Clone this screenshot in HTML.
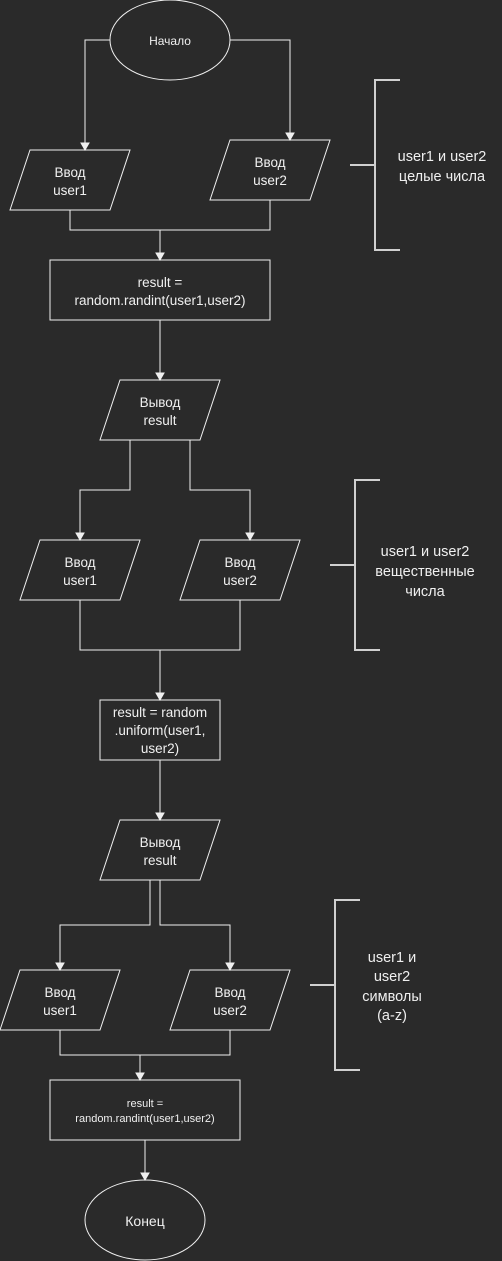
<!DOCTYPE html>
<html><head><meta charset="utf-8"><style>
html,body{margin:0;padding:0;background:#2a2a2a;}
svg{display:block;}
text{font-family:"Liberation Sans",Arial,sans-serif;fill:#f0f0f0;font-size:13.5px;text-anchor:middle;}
.s{fill:none;stroke:#f0f0f0;stroke-width:1;}
.b{fill:none;stroke:#d0d0d0;stroke-width:2;}
.a{fill:#f0f0f0;stroke:#f0f0f0;}
</style></head><body>
<svg width="502" height="1261" viewBox="0 0 502 1261">
<ellipse class="s" cx="170" cy="40" rx="60" ry="40"/>
<text x="170" y="45" style="font-size:12px">Начало</text>
<polyline class="s" points="110,40 85,40 85,143"/>
<polygon class="a" points="81,143 89,143 85,150"/>
<polyline class="s" points="230,40 290,40 290,133"/>
<polygon class="a" points="286,133 294,133 290,140"/>
<polygon class="s" points="30,150 130,150 110,210 10,210"/>
<text x="70" y="177">Ввод</text><text x="70" y="195">user1</text>
<polygon class="s" points="230,140 330,140 310,200 210,200"/>
<text x="270" y="167">Ввод</text><text x="270" y="185">user2</text>
<polyline class="s" points="70,210 70,230 270,230 270,200"/>
<line class="s" x1="160" y1="230" x2="160" y2="253"/>
<polygon class="a" points="156,253 164,253 160,260"/>
<rect class="s" x="50" y="260" width="220" height="60"/>
<text x="160" y="287">result =</text><text x="160" y="305">random.randint(user1,user2)</text>
<polyline class="b" points="350,165 375,165"/>
<polyline class="b" points="400,80 375,80 375,250 400,250"/>
<text x="442" y="161" style="font-size:14.5px">user1 и user2</text>
<text x="442" y="181" style="font-size:14.5px">целые числа</text>
<line class="s" x1="160" y1="320" x2="160" y2="373"/>
<polygon class="a" points="156,373 164,373 160,380"/>
<polygon class="s" points="120,380 220,380 200,440 100,440"/>
<text x="160" y="407">Вывод</text><text x="160" y="425">result</text>
<polyline class="s" points="130,440 130,490 80,490 80,533"/>
<polygon class="a" points="76,533 84,533 80,540"/>
<polyline class="s" points="190,440 190,490 250,490 250,533"/>
<polygon class="a" points="246,533 254,533 250,540"/>
<polygon class="s" points="40,540 140,540 120,600 20,600"/>
<text x="80" y="567">Ввод</text><text x="80" y="585">user1</text>
<polygon class="s" points="200,540 300,540 280,600 180,600"/>
<text x="240" y="567">Ввод</text><text x="240" y="585">user2</text>
<polyline class="s" points="80,600 80,650 240,650 240,600"/>
<line class="s" x1="160" y1="650" x2="160" y2="693"/>
<polygon class="a" points="156,693 164,693 160,700"/>
<rect class="s" x="100" y="700" width="120" height="60"/>
<text x="160" y="717">result = random</text><text x="160" y="735">.uniform(user1,</text><text x="160" y="753">user2)</text>
<polyline class="b" points="330,565 355,565"/>
<polyline class="b" points="380,480 355,480 355,650 380,650"/>
<text x="425" y="556" style="font-size:14.5px">user1 и user2</text>
<text x="425" y="576" style="font-size:14.5px">вещественные</text>
<text x="425" y="596" style="font-size:14.5px">числа</text>
<line class="s" x1="160" y1="760" x2="160" y2="813"/>
<polygon class="a" points="156,813 164,813 160,820"/>
<polygon class="s" points="120,820 220,820 200,880 100,880"/>
<text x="160" y="847">Вывод</text><text x="160" y="865">result</text>
<polyline class="s" points="150,880 150,925 60,925 60,963"/>
<polygon class="a" points="56,963 64,963 60,970"/>
<polyline class="s" points="160,880 160,925 230,925 230,963"/>
<polygon class="a" points="226,963 234,963 230,970"/>
<polygon class="s" points="20,970 120,970 100,1030 0,1030"/>
<text x="60" y="997">Ввод</text><text x="60" y="1015">user1</text>
<polygon class="s" points="190,970 290,970 270,1030 170,1030"/>
<text x="230" y="997">Ввод</text><text x="230" y="1015">user2</text>
<polyline class="s" points="60,1030 60,1055 230,1055 230,1030"/>
<line class="s" x1="140" y1="1055" x2="140" y2="1073"/>
<polygon class="a" points="136,1073 144,1073 140,1080"/>
<rect class="s" x="50" y="1080" width="190" height="60"/>
<text x="145" y="1107" style="font-size:11px">result =</text><text x="145" y="1122" style="font-size:11px">random.randint(user1,user2)</text>
<line class="s" x1="145" y1="1140" x2="145" y2="1173"/>
<polygon class="a" points="141,1173 149,1173 145,1180"/>
<ellipse class="s" cx="145" cy="1220" rx="60" ry="40"/>
<text x="145" y="1226" style="font-size:14px">Конец</text>
<polyline class="b" points="310,985 335,985"/>
<polyline class="b" points="360,900 335,900 335,1070 360,1070"/>
<text x="392" y="962" style="font-size:14.5px">user1 и</text>
<text x="392" y="981" style="font-size:14.5px">user2</text>
<text x="392" y="1001" style="font-size:14.5px">символы</text>
<text x="392" y="1020" style="font-size:14.5px">(a-z)</text>
</svg>
</body></html>
